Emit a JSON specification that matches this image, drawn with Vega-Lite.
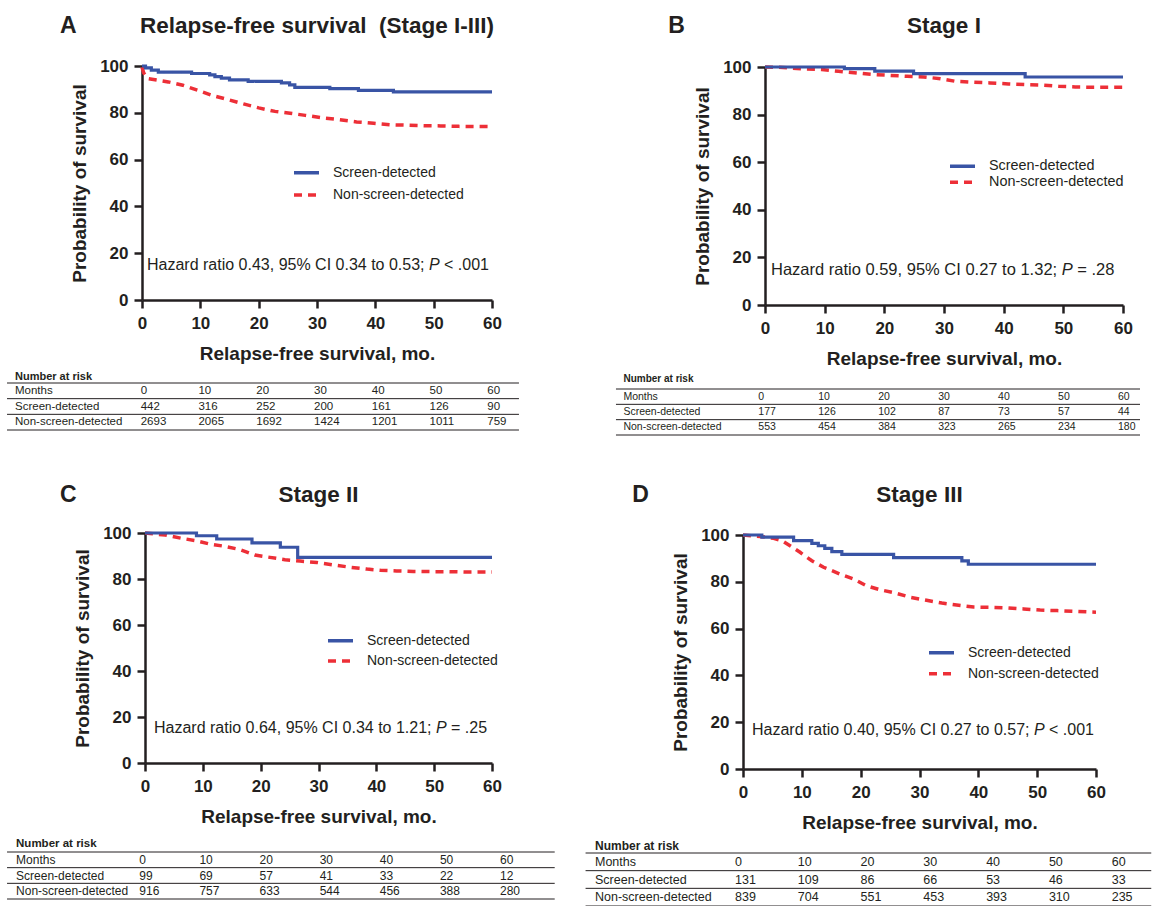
{
 "$schema": "https://vega.github.io/schema/vega-lite/v6.json",
 "padding": 0,
 "background": "white",
 "config": {
  "view": {"stroke": null},
  "font": "Liberation Sans",
  "text": {"color": "#231f20", "font": "Liberation Sans"},
  "axis": {"domainColor": "#231f20", "domainWidth": 2.5, "tickColor": "#231f20", "tickWidth": 2.5, "tickSize": 8, "labelFont": "Liberation Sans", "labelFontSize": 17, "labelFontWeight": "bold", "labelColor": "#231f20", "titleFont": "Liberation Sans", "titleFontSize": 19, "titleFontWeight": "bold", "titleColor": "#231f20", "grid": false},
  "axisX": {"labelPadding": 7.5, "titlePadding": 13, "labelFlush": false},
  "axisY": {"labelPadding": 6, "titlePadding": 10},
  "legend": {"symbolType": "stroke", "symbolSize": 625, "symbolStrokeWidth": 3.5, "labelFont": "Liberation Sans", "labelFontSize": 14, "labelColor": "#231f20", "labelOffset": 12, "padding": 0}
 },
 "datasets": {
  "rows": [{"r": "Months"}, {"r": "Screen-detected"}, {"r": "Non-screen-detected"}],
  "hdr": [{"r": "Months", "h": "Number at risk"}],
  "A_km": [
   {"g": "Screen-detected", "t": 0, "s": 100}, {"g": "Screen-detected", "t": 0.6, "s": 99.2}, {"g": "Screen-detected", "t": 1.6, "s": 98.2}, {"g": "Screen-detected", "t": 2.8, "s": 97.4}, {"g": "Screen-detected", "t": 8.5, "s": 96.8}, {"g": "Screen-detected", "t": 11.6, "s": 96.2}, {"g": "Screen-detected", "t": 12.5, "s": 95.5}, {"g": "Screen-detected", "t": 13.6, "s": 94.8}, {"g": "Screen-detected", "t": 15, "s": 94.1}, {"g": "Screen-detected", "t": 18.2, "s": 93.4}, {"g": "Screen-detected", "t": 23.9, "s": 92.8}, {"g": "Screen-detected", "t": 25.3, "s": 91.9}, {"g": "Screen-detected", "t": 26.2, "s": 90.9}, {"g": "Screen-detected", "t": 32.2, "s": 90.3}, {"g": "Screen-detected", "t": 37.1, "s": 89.6}, {"g": "Screen-detected", "t": 43.1, "s": 88.9}, {"g": "Screen-detected", "t": 60, "s": 88.9},
   {"g": "Non-screen-detected", "t": 0, "s": 99.5}, {"g": "Non-screen-detected", "t": 0.3, "s": 97}, {"g": "Non-screen-detected", "t": 1, "s": 94.6}, {"g": "Non-screen-detected", "t": 4.5, "s": 93.2}, {"g": "Non-screen-detected", "t": 7, "s": 91.8}, {"g": "Non-screen-detected", "t": 9.6, "s": 89.6}, {"g": "Non-screen-detected", "t": 12.2, "s": 87.3}, {"g": "Non-screen-detected", "t": 14.8, "s": 85.6}, {"g": "Non-screen-detected", "t": 17.4, "s": 83.8}, {"g": "Non-screen-detected", "t": 20, "s": 82.1}, {"g": "Non-screen-detected", "t": 22.8, "s": 80.6}, {"g": "Non-screen-detected", "t": 25.4, "s": 79.8}, {"g": "Non-screen-detected", "t": 28, "s": 78.9}, {"g": "Non-screen-detected", "t": 31.1, "s": 77.8}, {"g": "Non-screen-detected", "t": 33.7, "s": 77.1}, {"g": "Non-screen-detected", "t": 36.8, "s": 76.1}, {"g": "Non-screen-detected", "t": 39.7, "s": 75.5}, {"g": "Non-screen-detected", "t": 42.5, "s": 74.9}, {"g": "Non-screen-detected", "t": 45.4, "s": 74.7}, {"g": "Non-screen-detected", "t": 48.3, "s": 74.5}, {"g": "Non-screen-detected", "t": 51.2, "s": 74.4}, {"g": "Non-screen-detected", "t": 54.3, "s": 74.2}, {"g": "Non-screen-detected", "t": 60, "s": 74.1}
  ],
  "B_km": [
   {"g": "Screen-detected", "t": 0, "s": 100}, {"g": "Screen-detected", "t": 13.3, "s": 99.3}, {"g": "Screen-detected", "t": 18.4, "s": 98.3}, {"g": "Screen-detected", "t": 24.9, "s": 97.2}, {"g": "Screen-detected", "t": 43.6, "s": 95.8}, {"g": "Screen-detected", "t": 60, "s": 95.8},
   {"g": "Non-screen-detected", "t": 0, "s": 100}, {"g": "Non-screen-detected", "t": 3, "s": 99.8}, {"g": "Non-screen-detected", "t": 6.2, "s": 99.2}, {"g": "Non-screen-detected", "t": 9.5, "s": 98.9}, {"g": "Non-screen-detected", "t": 12.3, "s": 98.2}, {"g": "Non-screen-detected", "t": 15.4, "s": 97.5}, {"g": "Non-screen-detected", "t": 17.9, "s": 96.9}, {"g": "Non-screen-detected", "t": 20.7, "s": 96.5}, {"g": "Non-screen-detected", "t": 23.8, "s": 96.1}, {"g": "Non-screen-detected", "t": 26.6, "s": 95.8}, {"g": "Non-screen-detected", "t": 29.4, "s": 95.1}, {"g": "Non-screen-detected", "t": 31.9, "s": 94.0}, {"g": "Non-screen-detected", "t": 35, "s": 93.6}, {"g": "Non-screen-detected", "t": 37.7, "s": 93.3}, {"g": "Non-screen-detected", "t": 40.8, "s": 92.9}, {"g": "Non-screen-detected", "t": 43.6, "s": 92.6}, {"g": "Non-screen-detected", "t": 46.4, "s": 92.4}, {"g": "Non-screen-detected", "t": 49.2, "s": 91.9}, {"g": "Non-screen-detected", "t": 52, "s": 91.6}, {"g": "Non-screen-detected", "t": 55.1, "s": 91.5}, {"g": "Non-screen-detected", "t": 60, "s": 91.5}
  ],
  "C_km": [
   {"g": "Screen-detected", "t": 0, "s": 100}, {"g": "Screen-detected", "t": 8.9, "s": 98.8}, {"g": "Screen-detected", "t": 12.4, "s": 97.4}, {"g": "Screen-detected", "t": 18.5, "s": 95.7}, {"g": "Screen-detected", "t": 23.4, "s": 93.8}, {"g": "Screen-detected", "t": 26.4, "s": 89.4}, {"g": "Screen-detected", "t": 60, "s": 89.4},
   {"g": "Non-screen-detected", "t": 0, "s": 100}, {"g": "Non-screen-detected", "t": 3.5, "s": 99.1}, {"g": "Non-screen-detected", "t": 6.3, "s": 97.7}, {"g": "Non-screen-detected", "t": 8.7, "s": 96.7}, {"g": "Non-screen-detected", "t": 11.2, "s": 95.2}, {"g": "Non-screen-detected", "t": 13.8, "s": 94.2}, {"g": "Non-screen-detected", "t": 16.4, "s": 92.8}, {"g": "Non-screen-detected", "t": 19, "s": 90.4}, {"g": "Non-screen-detected", "t": 21.6, "s": 89.4}, {"g": "Non-screen-detected", "t": 24.2, "s": 88.4}, {"g": "Non-screen-detected", "t": 26.8, "s": 87.8}, {"g": "Non-screen-detected", "t": 29.7, "s": 87.2}, {"g": "Non-screen-detected", "t": 32.6, "s": 86.1}, {"g": "Non-screen-detected", "t": 35.5, "s": 85.1}, {"g": "Non-screen-detected", "t": 38.4, "s": 84.3}, {"g": "Non-screen-detected", "t": 40.7, "s": 83.8}, {"g": "Non-screen-detected", "t": 43.5, "s": 83.5}, {"g": "Non-screen-detected", "t": 46.4, "s": 83.3}, {"g": "Non-screen-detected", "t": 49.6, "s": 83.2}, {"g": "Non-screen-detected", "t": 52.5, "s": 83.2}, {"g": "Non-screen-detected", "t": 55.7, "s": 83.0}, {"g": "Non-screen-detected", "t": 60, "s": 83.0}
  ],
  "D_km": [
   {"g": "Screen-detected", "t": 0, "s": 100}, {"g": "Screen-detected", "t": 3.2, "s": 99.1}, {"g": "Screen-detected", "t": 8.6, "s": 97.6}, {"g": "Screen-detected", "t": 11.7, "s": 96.4}, {"g": "Screen-detected", "t": 12.8, "s": 95.4}, {"g": "Screen-detected", "t": 13.9, "s": 94.3}, {"g": "Screen-detected", "t": 15.1, "s": 92.9}, {"g": "Screen-detected", "t": 16.8, "s": 91.7}, {"g": "Screen-detected", "t": 25.6, "s": 90.3}, {"g": "Screen-detected", "t": 37.2, "s": 88.9}, {"g": "Screen-detected", "t": 38.3, "s": 87.5}, {"g": "Screen-detected", "t": 60, "s": 87.5},
   {"g": "Non-screen-detected", "t": 0, "s": 100}, {"g": "Non-screen-detected", "t": 2.9, "s": 99.4}, {"g": "Non-screen-detected", "t": 5.2, "s": 98.6}, {"g": "Non-screen-detected", "t": 6.6, "s": 97.6}, {"g": "Non-screen-detected", "t": 8, "s": 95.4}, {"g": "Non-screen-detected", "t": 9.7, "s": 92.6}, {"g": "Non-screen-detected", "t": 11.7, "s": 89.0}, {"g": "Non-screen-detected", "t": 13.7, "s": 86.2}, {"g": "Non-screen-detected", "t": 16.5, "s": 83.3}, {"g": "Non-screen-detected", "t": 18.8, "s": 81.2}, {"g": "Non-screen-detected", "t": 21, "s": 78.3}, {"g": "Non-screen-detected", "t": 23.3, "s": 76.6}, {"g": "Non-screen-detected", "t": 25.9, "s": 75.2}, {"g": "Non-screen-detected", "t": 28.4, "s": 73.4}, {"g": "Non-screen-detected", "t": 31.2, "s": 72.1}, {"g": "Non-screen-detected", "t": 33.8, "s": 70.9}, {"g": "Non-screen-detected", "t": 36.3, "s": 70.1}, {"g": "Non-screen-detected", "t": 39.2, "s": 69.2}, {"g": "Non-screen-detected", "t": 42, "s": 69.1}, {"g": "Non-screen-detected", "t": 44.8, "s": 68.9}, {"g": "Non-screen-detected", "t": 47.7, "s": 68.4}, {"g": "Non-screen-detected", "t": 50.5, "s": 67.9}, {"g": "Non-screen-detected", "t": 53.4, "s": 67.7}, {"g": "Non-screen-detected", "t": 56.2, "s": 67.4}, {"g": "Non-screen-detected", "t": 60, "s": 67.0}
  ],
  "A_risk": [
   {"m": 0, "Months": 0, "Screen-detected": 442, "Non-screen-detected": 2693}, {"m": 10, "Months": 10, "Screen-detected": 316, "Non-screen-detected": 2065}, {"m": 20, "Months": 20, "Screen-detected": 252, "Non-screen-detected": 1692}, {"m": 30, "Months": 30, "Screen-detected": 200, "Non-screen-detected": 1424}, {"m": 40, "Months": 40, "Screen-detected": 161, "Non-screen-detected": 1201}, {"m": 50, "Months": 50, "Screen-detected": 126, "Non-screen-detected": 1011}, {"m": 60, "Months": 60, "Screen-detected": 90, "Non-screen-detected": 759}
  ],
  "B_risk": [
   {"m": 0, "Months": 0, "Screen-detected": 177, "Non-screen-detected": 553}, {"m": 10, "Months": 10, "Screen-detected": 126, "Non-screen-detected": 454}, {"m": 20, "Months": 20, "Screen-detected": 102, "Non-screen-detected": 384}, {"m": 30, "Months": 30, "Screen-detected": 87, "Non-screen-detected": 323}, {"m": 40, "Months": 40, "Screen-detected": 73, "Non-screen-detected": 265}, {"m": 50, "Months": 50, "Screen-detected": 57, "Non-screen-detected": 234}, {"m": 60, "Months": 60, "Screen-detected": 44, "Non-screen-detected": 180}
  ],
  "C_risk": [
   {"m": 0, "Months": 0, "Screen-detected": 99, "Non-screen-detected": 916}, {"m": 10, "Months": 10, "Screen-detected": 69, "Non-screen-detected": 757}, {"m": 20, "Months": 20, "Screen-detected": 57, "Non-screen-detected": 633}, {"m": 30, "Months": 30, "Screen-detected": 41, "Non-screen-detected": 544}, {"m": 40, "Months": 40, "Screen-detected": 33, "Non-screen-detected": 456}, {"m": 50, "Months": 50, "Screen-detected": 22, "Non-screen-detected": 388}, {"m": 60, "Months": 60, "Screen-detected": 12, "Non-screen-detected": 280}
  ],
  "D_risk": [
   {"m": 0, "Months": 0, "Screen-detected": 131, "Non-screen-detected": 839}, {"m": 10, "Months": 10, "Screen-detected": 109, "Non-screen-detected": 704}, {"m": 20, "Months": 20, "Screen-detected": 86, "Non-screen-detected": 551}, {"m": 30, "Months": 30, "Screen-detected": 66, "Non-screen-detected": 453}, {"m": 40, "Months": 40, "Screen-detected": 53, "Non-screen-detected": 393}, {"m": 50, "Months": 50, "Screen-detected": 46, "Non-screen-detected": 310}, {"m": 60, "Months": 60, "Screen-detected": 33, "Non-screen-detected": 235}
  ]
 },
 "columns": 4,
 "align": "each",
 "bounds": "flush",
 "spacing": 0,
 "resolve": {"scale": {"color": "independent", "strokeDash": "independent"}, "legend": {"color": "independent", "strokeDash": "independent"}},
 "concat": [
  {"width": 1, "height": 1, "data": {"values": [{}]}, "mark": {"type": "point", "opacity": 0, "size": 0, "strokeWidth": 0}},
  {"width": 1, "height": 66, "data": {"values": [{}]}, "mark": {"type": "point", "opacity": 0, "size": 0, "strokeWidth": 0}},
  {"width": 1, "height": 1, "data": {"values": [{}]}, "mark": {"type": "point", "opacity": 0, "size": 0, "strokeWidth": 0}},
  {"width": 1, "height": 1, "data": {"values": [{}]}, "mark": {"type": "point", "opacity": 0, "size": 0, "strokeWidth": 0}},

  {"width": 142, "height": 1, "data": {"values": [{}]}, "mark": {"type": "point", "opacity": 0, "size": 0, "strokeWidth": 0}},
  {
   "width": 350, "height": 234,
   "layer": [
    {"data": {"name": "A_km"}, "transform": [{"filter": "datum.g == 'Non-screen-detected'"}],
     "mark": {"type": "line", "interpolate": "linear", "strokeWidth": 3.5},
     "encoding": {
      "x": {"field": "t", "type": "quantitative", "scale": {"domain": [0, 60], "nice": false, "zero": false}, "axis": {"values": [0, 10, 20, 30, 40, 50, 60], "title": "Relapse-free survival, mo."}},
      "y": {"field": "s", "type": "quantitative", "scale": {"domain": [0, 100], "nice": false}, "axis": {"values": [0, 20, 40, 60, 80, 100], "title": "Probability of survival"}},
      "color": {"field": "g", "type": "nominal", "scale": {"domain": ["Screen-detected", "Non-screen-detected"], "range": ["#3954a5", "#ed2f37"]}, "legend": {"orient": "none", "legendX": 150, "legendY": 96.7, "clipHeight": 20, "rowPadding": 2.3, "title": null}},
      "strokeDash": {"field": "g", "type": "nominal", "scale": {"domain": ["Screen-detected", "Non-screen-detected"], "range": [[1, 0], [8, 6]]}, "legend": {"orient": "none", "legendX": 150, "legendY": 96.7, "clipHeight": 20, "rowPadding": 2.3, "title": null}}
     }},
    {"data": {"name": "A_km"}, "transform": [{"filter": "datum.g == 'Screen-detected'"}],
     "mark": {"type": "line", "interpolate": "step-after", "strokeWidth": 3.2},
     "encoding": {"x": {"field": "t", "type": "quantitative"}, "y": {"field": "s", "type": "quantitative"}, "color": {"field": "g", "type": "nominal"}, "strokeDash": {"field": "g", "type": "nominal"}}},
    {"data": {"values": [{"l": "A", "title": "Relapse-free survival\u00a0 (Stage I-III)"}]},
     "encoding": {"x": {"datum": 0}, "y": {"datum": 100}},
     "layer": [
      {"mark": {"type": "text", "align": "left", "baseline": "alphabetic", "dx": -82, "dy": -32.7, "fontSize": 23, "fontWeight": "bold"}, "encoding": {"text": {"field": "l"}}},
      {"mark": {"type": "text", "align": "center", "baseline": "alphabetic", "dy": -32.7, "fontSize": 22.5, "fontWeight": "bold"}, "encoding": {"x": {"datum": 30}, "text": {"field": "title"}}}
     ]},
    {"data": {"values": [{"hr": "Hazard ratio 0.43, 95% CI 0.34 to 0.53;", "p": "P", "pv": "< .001"}]},
     "encoding": {"x": {"datum": 0.86}, "y": {"datum": 15.0}},
     "layer": [
      {"mark": {"type": "text", "align": "left", "baseline": "middle", "fontSize": 16}, "encoding": {"text": {"field": "hr"}}},
      {"mark": {"type": "text", "align": "left", "baseline": "middle", "fontSize": 16, "fontStyle": "italic", "dx": 281.9}, "encoding": {"text": {"field": "p"}}},
      {"mark": {"type": "text", "align": "left", "baseline": "middle", "fontSize": 16, "dx": 297.0}, "encoding": {"text": {"field": "pv"}}}
     ]}
   ]
  },
  {"width": 251, "height": 1, "data": {"values": [{}]}, "mark": {"type": "point", "opacity": 0, "size": 0, "strokeWidth": 0}},
  {
   "width": 380, "height": 239,
   "layer": [
    {"data": {"name": "B_km"}, "transform": [{"filter": "datum.g == 'Non-screen-detected'"}],
     "mark": {"type": "line", "interpolate": "linear", "strokeWidth": 3.5},
     "encoding": {
      "x": {"field": "t", "type": "quantitative", "scale": {"domain": [0, 60], "range": [22, 380], "nice": false, "zero": false}, "axis": {"values": [0, 10, 20, 30, 40, 50, 60], "title": "Relapse-free survival, mo."}},
      "y": {"field": "s", "type": "quantitative", "scale": {"domain": [0, 100], "range": [239, 1], "nice": false}, "axis": {"values": [0, 20, 40, 60, 80, 100], "title": "Probability of survival", "offset": -22}},
      "color": {"field": "g", "type": "nominal", "scale": {"domain": ["Screen-detected", "Non-screen-detected"], "range": ["#3954a5", "#ed2f37"]}, "legend": {"orient": "none", "legendX": 205, "legendY": 92.2, "clipHeight": 16, "rowPadding": 0, "labelFontSize": 14.4, "title": null}},
      "strokeDash": {"field": "g", "type": "nominal", "scale": {"domain": ["Screen-detected", "Non-screen-detected"], "range": [[1, 0], [8, 6]]}, "legend": {"orient": "none", "legendX": 205, "legendY": 92.2, "clipHeight": 16, "rowPadding": 0, "labelFontSize": 14.4, "title": null}}
     }},
    {"data": {"name": "B_km"}, "transform": [{"filter": "datum.g == 'Screen-detected'"}],
     "mark": {"type": "line", "interpolate": "step-after", "strokeWidth": 3.2},
     "encoding": {"x": {"field": "t", "type": "quantitative"}, "y": {"field": "s", "type": "quantitative"}, "color": {"field": "g", "type": "nominal"}, "strokeDash": {"field": "g", "type": "nominal"}}},
    {"data": {"values": [{"l": "B", "title": "Stage I"}]},
     "encoding": {"x": {"datum": 0}, "y": {"datum": 100}},
     "layer": [
      {"mark": {"type": "text", "align": "left", "baseline": "alphabetic", "dx": -96.7, "dy": -33.7, "fontSize": 23, "fontWeight": "bold"}, "encoding": {"text": {"field": "l"}}},
      {"mark": {"type": "text", "align": "center", "baseline": "alphabetic", "dy": -33.7, "fontSize": 22.5, "fontWeight": "bold"}, "encoding": {"x": {"datum": 30}, "text": {"field": "title"}}}
     ]},
    {"data": {"values": [{"hr": "Hazard ratio 0.59, 95% CI 0.27 to 1.32;", "p": "P", "pv": "= .28"}]},
     "encoding": {"x": {"datum": 1.0}, "y": {"datum": 14.7}},
     "layer": [
      {"mark": {"type": "text", "align": "left", "baseline": "middle", "fontSize": 16.5}, "encoding": {"text": {"field": "hr"}}},
      {"mark": {"type": "text", "align": "left", "baseline": "middle", "fontSize": 16.5, "fontStyle": "italic", "dx": 290.7}, "encoding": {"text": {"field": "p"}}},
      {"mark": {"type": "text", "align": "left", "baseline": "middle", "fontSize": 16.5, "dx": 306.3}, "encoding": {"text": {"field": "pv"}}}
     ]}
   ]
  },

  {"width": 1, "height": 1, "data": {"values": [{}]}, "mark": {"type": "point", "opacity": 0, "size": 0, "strokeWidth": 0}},
  {"width": 1, "height": 78, "data": {"values": [{}]}, "mark": {"type": "point", "opacity": 0, "size": 0, "strokeWidth": 0}},
  {"width": 1, "height": 1, "data": {"values": [{}]}, "mark": {"type": "point", "opacity": 0, "size": 0, "strokeWidth": 0}},
  {"width": 1, "height": 1, "data": {"values": [{}]}, "mark": {"type": "point", "opacity": 0, "size": 0, "strokeWidth": 0}},

  {"width": 1, "height": 1, "data": {"values": [{}]}, "mark": {"type": "point", "opacity": 0, "size": 0, "strokeWidth": 0}},
  {
   "width": 350, "height": 47,
   "layer": [
    {"data": {"name": "A_risk"}, "transform": [{"fold": ["Months", "Screen-detected", "Non-screen-detected"], "as": ["r", "v"]}],
     "mark": {"type": "text", "align": "left", "baseline": "middle", "fontSize": 11.5},
     "encoding": {
      "x": {"field": "m", "type": "quantitative", "scale": {"domain": [0, 60], "range": [-1.3, 345.3], "nice": false, "zero": false}, "axis": null},
      "y": {"field": "r", "type": "nominal", "bandPosition": 0.5, "scale": {"type": "band", "domain": ["Months", "Screen-detected", "Non-screen-detected"], "paddingInner": 0, "paddingOuter": 0}, "axis": null},
      "text": {"field": "v", "type": "nominal"}
     }},
    {"data": {"name": "rows"}, "mark": {"type": "text", "align": "left", "baseline": "middle", "fontSize": 11.5},
     "encoding": {"x": {"datum": -21.76}, "y": {"field": "r", "type": "nominal", "bandPosition": 0.5}, "text": {"field": "r", "type": "nominal"}}},
    {"data": {"name": "hdr"}, "mark": {"type": "text", "align": "left", "baseline": "alphabetic", "fontSize": 11, "fontWeight": "bold", "dy": -3.5},
     "encoding": {"x": {"datum": -21.76}, "y": {"field": "r", "type": "nominal", "bandPosition": 0}, "text": {"field": "h", "type": "nominal"}}},
    {"data": {"name": "rows"}, "mark": {"type": "rule", "color": "#231f20", "strokeWidth": 1},
     "encoding": {"x": {"datum": -23.14}, "x2": {"datum": 65.48}, "y": {"field": "r", "type": "nominal", "bandPosition": 0}}},
    {"data": {"name": "rows"}, "transform": [{"filter": "datum.r == 'Non-screen-detected'"}], "mark": {"type": "rule", "color": "#231f20", "strokeWidth": 1},
     "encoding": {"x": {"datum": -23.14}, "x2": {"datum": 65.48}, "y": {"field": "r", "type": "nominal", "bandPosition": 1}}}
   ]
  },
  {"width": 1, "height": 1, "data": {"values": [{}]}, "mark": {"type": "point", "opacity": 0, "size": 0, "strokeWidth": 0}},
  {
   "width": 380, "height": 52,
   "layer": [
    {"data": {"name": "B_risk"}, "transform": [{"fold": ["Months", "Screen-detected", "Non-screen-detected"], "as": ["r", "v"]}],
     "mark": {"type": "text", "align": "left", "baseline": "middle", "fontSize": 10.5},
     "encoding": {
      "x": {"field": "m", "type": "quantitative", "scale": {"domain": [0, 60], "range": [15.3, 375], "nice": false, "zero": false}, "axis": null},
      "y": {"field": "r", "type": "nominal", "bandPosition": 0.5, "scale": {"type": "band", "domain": ["Months", "Screen-detected", "Non-screen-detected"], "range": [6, 52], "paddingInner": 0, "paddingOuter": 0}, "axis": null},
      "text": {"field": "v", "type": "nominal"}
     }},
    {"data": {"name": "rows"}, "mark": {"type": "text", "align": "left", "baseline": "middle", "fontSize": 10.5},
     "encoding": {"x": {"datum": -22.5}, "y": {"field": "r", "type": "nominal", "bandPosition": 0.5}, "text": {"field": "r", "type": "nominal"}}},
    {"data": {"name": "hdr"}, "mark": {"type": "text", "align": "left", "baseline": "alphabetic", "fontSize": 10, "fontWeight": "bold", "dy": -7.3},
     "encoding": {"x": {"datum": -22.5}, "y": {"field": "r", "type": "nominal", "bandPosition": 0}, "text": {"field": "h", "type": "nominal"}}},
    {"data": {"name": "rows"}, "mark": {"type": "rule", "color": "#231f20", "strokeWidth": 1},
     "encoding": {"x": {"datum": -23.74}, "x2": {"datum": 63.67}, "y": {"field": "r", "type": "nominal", "bandPosition": 0}}},
    {"data": {"name": "rows"}, "transform": [{"filter": "datum.r == 'Non-screen-detected'"}], "mark": {"type": "rule", "color": "#231f20", "strokeWidth": 1},
     "encoding": {"x": {"datum": -23.74}, "x2": {"datum": 63.67}, "y": {"field": "r", "type": "nominal", "bandPosition": 1}}}
   ]
  },

  {"width": 1, "height": 1, "data": {"values": [{}]}, "mark": {"type": "point", "opacity": 0, "size": 0, "strokeWidth": 0}},
  {"width": 1, "height": 98, "data": {"values": [{}]}, "mark": {"type": "point", "opacity": 0, "size": 0, "strokeWidth": 0}},
  {"width": 1, "height": 1, "data": {"values": [{}]}, "mark": {"type": "point", "opacity": 0, "size": 0, "strokeWidth": 0}},
  {"width": 1, "height": 1, "data": {"values": [{}]}, "mark": {"type": "point", "opacity": 0, "size": 0, "strokeWidth": 0}},

  {"width": 1, "height": 1, "data": {"values": [{}]}, "mark": {"type": "point", "opacity": 0, "size": 0, "strokeWidth": 0}},
  {
   "width": 350, "height": 230,
   "layer": [
    {"data": {"name": "C_km"}, "transform": [{"filter": "datum.g == 'Non-screen-detected'"}],
     "mark": {"type": "line", "interpolate": "linear", "strokeWidth": 3.5},
     "encoding": {
      "x": {"field": "t", "type": "quantitative", "scale": {"domain": [0, 60], "range": [3, 350], "nice": false, "zero": false}, "axis": {"values": [0, 10, 20, 30, 40, 50, 60], "title": "Relapse-free survival, mo."}},
      "y": {"field": "s", "type": "quantitative", "scale": {"domain": [0, 100], "nice": false}, "axis": {"values": [0, 20, 40, 60, 80, 100], "title": "Probability of survival", "offset": -3}},
      "color": {"field": "g", "type": "nominal", "scale": {"domain": ["Screen-detected", "Non-screen-detected"], "range": ["#3954a5", "#ed2f37"]}, "legend": {"orient": "none", "legendX": 184, "legendY": 98.7, "clipHeight": 18, "rowPadding": 2.3, "title": null}},
      "strokeDash": {"field": "g", "type": "nominal", "scale": {"domain": ["Screen-detected", "Non-screen-detected"], "range": [[1, 0], [8, 6]]}, "legend": {"orient": "none", "legendX": 184, "legendY": 98.7, "clipHeight": 18, "rowPadding": 2.3, "title": null}}
     }},
    {"data": {"name": "C_km"}, "transform": [{"filter": "datum.g == 'Screen-detected'"}],
     "mark": {"type": "line", "interpolate": "step-after", "strokeWidth": 3.2},
     "encoding": {"x": {"field": "t", "type": "quantitative"}, "y": {"field": "s", "type": "quantitative"}, "color": {"field": "g", "type": "nominal"}, "strokeDash": {"field": "g", "type": "nominal"}}},
    {"data": {"values": [{"l": "C", "title": "Stage II"}]},
     "encoding": {"x": {"datum": 0}, "y": {"datum": 100}},
     "layer": [
      {"mark": {"type": "text", "align": "left", "baseline": "alphabetic", "dx": -85, "dy": -30.7, "fontSize": 23, "fontWeight": "bold"}, "encoding": {"text": {"field": "l"}}},
      {"mark": {"type": "text", "align": "center", "baseline": "alphabetic", "dy": -31.3, "fontSize": 22.5, "fontWeight": "bold"}, "encoding": {"x": {"datum": 30}, "text": {"field": "title"}}}
     ]},
    {"data": {"values": [{"hr": "Hazard ratio 0.64, 95% CI 0.34 to 1.21;", "p": "P", "pv": "= .25"}]},
     "encoding": {"x": {"datum": 1.56}, "y": {"datum": 15.1}},
     "layer": [
      {"mark": {"type": "text", "align": "left", "baseline": "middle", "fontSize": 16}, "encoding": {"text": {"field": "hr"}}},
      {"mark": {"type": "text", "align": "left", "baseline": "middle", "fontSize": 16, "fontStyle": "italic", "dx": 281.9}, "encoding": {"text": {"field": "p"}}},
      {"mark": {"type": "text", "align": "left", "baseline": "middle", "fontSize": 16, "dx": 297.0}, "encoding": {"text": {"field": "pv"}}}
     ]}
   ]
  },
  {"width": 1, "height": 1, "data": {"values": [{}]}, "mark": {"type": "point", "opacity": 0, "size": 0, "strokeWidth": 0}},
  {
   "width": 353, "height": 236,
   "layer": [
    {"data": {"name": "D_km"}, "transform": [{"filter": "datum.g == 'Non-screen-detected'"}],
     "mark": {"type": "line", "interpolate": "linear", "strokeWidth": 3.5},
     "encoding": {
      "x": {"field": "t", "type": "quantitative", "scale": {"domain": [0, 60], "nice": false, "zero": false}, "axis": {"values": [0, 10, 20, 30, 40, 50, 60], "title": "Relapse-free survival, mo."}},
      "y": {"field": "s", "type": "quantitative", "scale": {"domain": [0, 100], "range": [236, 2], "nice": false}, "axis": {"values": [0, 20, 40, 60, 80, 100], "title": "Probability of survival"}},
      "color": {"field": "g", "type": "nominal", "scale": {"domain": ["Screen-detected", "Non-screen-detected"], "range": ["#3954a5", "#ed2f37"]}, "legend": {"orient": "none", "legendX": 184, "legendY": 110.2, "clipHeight": 19, "rowPadding": 2, "title": null}},
      "strokeDash": {"field": "g", "type": "nominal", "scale": {"domain": ["Screen-detected", "Non-screen-detected"], "range": [[1, 0], [8, 6]]}, "legend": {"orient": "none", "legendX": 184, "legendY": 110.2, "clipHeight": 19, "rowPadding": 2, "title": null}}
     }},
    {"data": {"name": "D_km"}, "transform": [{"filter": "datum.g == 'Screen-detected'"}],
     "mark": {"type": "line", "interpolate": "step-after", "strokeWidth": 3.2},
     "encoding": {"x": {"field": "t", "type": "quantitative"}, "y": {"field": "s", "type": "quantitative"}, "color": {"field": "g", "type": "nominal"}, "strokeDash": {"field": "g", "type": "nominal"}}},
    {"data": {"values": [{"l": "D", "title": "Stage III"}]},
     "encoding": {"x": {"datum": 0}, "y": {"datum": 100}},
     "layer": [
      {"mark": {"type": "text", "align": "left", "baseline": "alphabetic", "dx": -110.8, "dy": -32.7, "fontSize": 23, "fontWeight": "bold"}, "encoding": {"text": {"field": "l"}}},
      {"mark": {"type": "text", "align": "center", "baseline": "alphabetic", "dy": -32.7, "fontSize": 22.5, "fontWeight": "bold"}, "encoding": {"x": {"datum": 30}, "text": {"field": "title"}}}
     ]},
    {"data": {"values": [{"hr": "Hazard ratio 0.40, 95% CI 0.27 to 0.57;", "p": "P", "pv": "< .001"}]},
     "encoding": {"x": {"datum": 1.53}, "y": {"datum": 16.7}},
     "layer": [
      {"mark": {"type": "text", "align": "left", "baseline": "middle", "fontSize": 16}, "encoding": {"text": {"field": "hr"}}},
      {"mark": {"type": "text", "align": "left", "baseline": "middle", "fontSize": 16, "fontStyle": "italic", "dx": 281.9}, "encoding": {"text": {"field": "p"}}},
      {"mark": {"type": "text", "align": "left", "baseline": "middle", "fontSize": 16, "dx": 297.0}, "encoding": {"text": {"field": "pv"}}}
     ]}
   ]
  },

  {"width": 1, "height": 1, "data": {"values": [{}]}, "mark": {"type": "point", "opacity": 0, "size": 0, "strokeWidth": 0}},
  {"width": 1, "height": 83, "data": {"values": [{}]}, "mark": {"type": "point", "opacity": 0, "size": 0, "strokeWidth": 0}},
  {"width": 1, "height": 1, "data": {"values": [{}]}, "mark": {"type": "point", "opacity": 0, "size": 0, "strokeWidth": 0}},
  {"width": 1, "height": 1, "data": {"values": [{}]}, "mark": {"type": "point", "opacity": 0, "size": 0, "strokeWidth": 0}},

  {"width": 1, "height": 1, "data": {"values": [{}]}, "mark": {"type": "point", "opacity": 0, "size": 0, "strokeWidth": 0}},
  {
   "width": 350, "height": 47,
   "layer": [
    {"data": {"name": "C_risk"}, "transform": [{"fold": ["Months", "Screen-detected", "Non-screen-detected"], "as": ["r", "v"]}],
     "mark": {"type": "text", "align": "left", "baseline": "middle", "fontSize": 12},
     "encoding": {
      "x": {"field": "m", "type": "quantitative", "scale": {"domain": [0, 60], "range": [-2.7, 358], "nice": false, "zero": false}, "axis": null},
      "y": {"field": "r", "type": "nominal", "bandPosition": 0.5, "scale": {"type": "band", "domain": ["Months", "Screen-detected", "Non-screen-detected"], "paddingInner": 0, "paddingOuter": 0}, "axis": null},
      "text": {"field": "v", "type": "nominal"}
     }},
    {"data": {"name": "rows"}, "mark": {"type": "text", "align": "left", "baseline": "middle", "fontSize": 12},
     "encoding": {"x": {"datum": -20.5}, "y": {"field": "r", "type": "nominal", "bandPosition": 0.5}, "text": {"field": "r", "type": "nominal"}}},
    {"data": {"name": "hdr"}, "mark": {"type": "text", "align": "left", "baseline": "alphabetic", "fontSize": 11.5, "fontWeight": "bold", "dy": -4.7},
     "encoding": {"x": {"datum": -20.5}, "y": {"field": "r", "type": "nominal", "bandPosition": 0}, "text": {"field": "h", "type": "nominal"}}},
    {"data": {"name": "rows"}, "mark": {"type": "rule", "color": "#231f20", "strokeWidth": 1},
     "encoding": {"x": {"datum": -22.0}, "x2": {"datum": 69.1}, "y": {"field": "r", "type": "nominal", "bandPosition": 0}}},
    {"data": {"name": "rows"}, "transform": [{"filter": "datum.r == 'Non-screen-detected'"}], "mark": {"type": "rule", "color": "#231f20", "strokeWidth": 1},
     "encoding": {"x": {"datum": -22.0}, "x2": {"datum": 69.1}, "y": {"field": "r", "type": "nominal", "bandPosition": 1}}}
   ]
  },
  {"width": 1, "height": 1, "data": {"values": [{}]}, "mark": {"type": "point", "opacity": 0, "size": 0, "strokeWidth": 0}},
  {
   "width": 368, "height": 54,
   "layer": [
    {"data": {"name": "D_risk"}, "transform": [{"fold": ["Months", "Screen-detected", "Non-screen-detected"], "as": ["r", "v"]}],
     "mark": {"type": "text", "align": "left", "baseline": "middle", "fontSize": 12.5},
     "encoding": {
      "x": {"field": "m", "type": "quantitative", "scale": {"domain": [0, 60], "range": [-8, 368.7], "nice": false, "zero": false}, "axis": null},
      "y": {"field": "r", "type": "nominal", "bandPosition": 0.5, "scale": {"type": "band", "domain": ["Months", "Screen-detected", "Non-screen-detected"], "range": [1, 54], "paddingInner": 0, "paddingOuter": 0}, "axis": null},
      "text": {"field": "v", "type": "nominal"}
     }},
    {"data": {"name": "rows"}, "mark": {"type": "text", "align": "left", "baseline": "middle", "fontSize": 12.5},
     "encoding": {"x": {"datum": -22.3}, "y": {"field": "r", "type": "nominal", "bandPosition": 0.5}, "text": {"field": "r", "type": "nominal"}}},
    {"data": {"name": "hdr"}, "mark": {"type": "text", "align": "left", "baseline": "alphabetic", "fontSize": 12, "fontWeight": "bold", "dy": -3.5},
     "encoding": {"x": {"datum": -22.3}, "y": {"field": "r", "type": "nominal", "bandPosition": 0}, "text": {"field": "h", "type": "nominal"}}},
    {"data": {"name": "rows"}, "mark": {"type": "rule", "color": "#231f20", "strokeWidth": 1},
     "encoding": {"x": {"datum": -23.8}, "x2": {"datum": 66.3}, "y": {"field": "r", "type": "nominal", "bandPosition": 0}}},
    {"data": {"name": "rows"}, "transform": [{"filter": "datum.r == 'Non-screen-detected'"}], "mark": {"type": "rule", "color": "#231f20", "strokeWidth": 1},
     "encoding": {"x": {"datum": -23.8}, "x2": {"datum": 66.3}, "y": {"field": "r", "type": "nominal", "bandPosition": 1}}}
   ]
  }
 ]
}
